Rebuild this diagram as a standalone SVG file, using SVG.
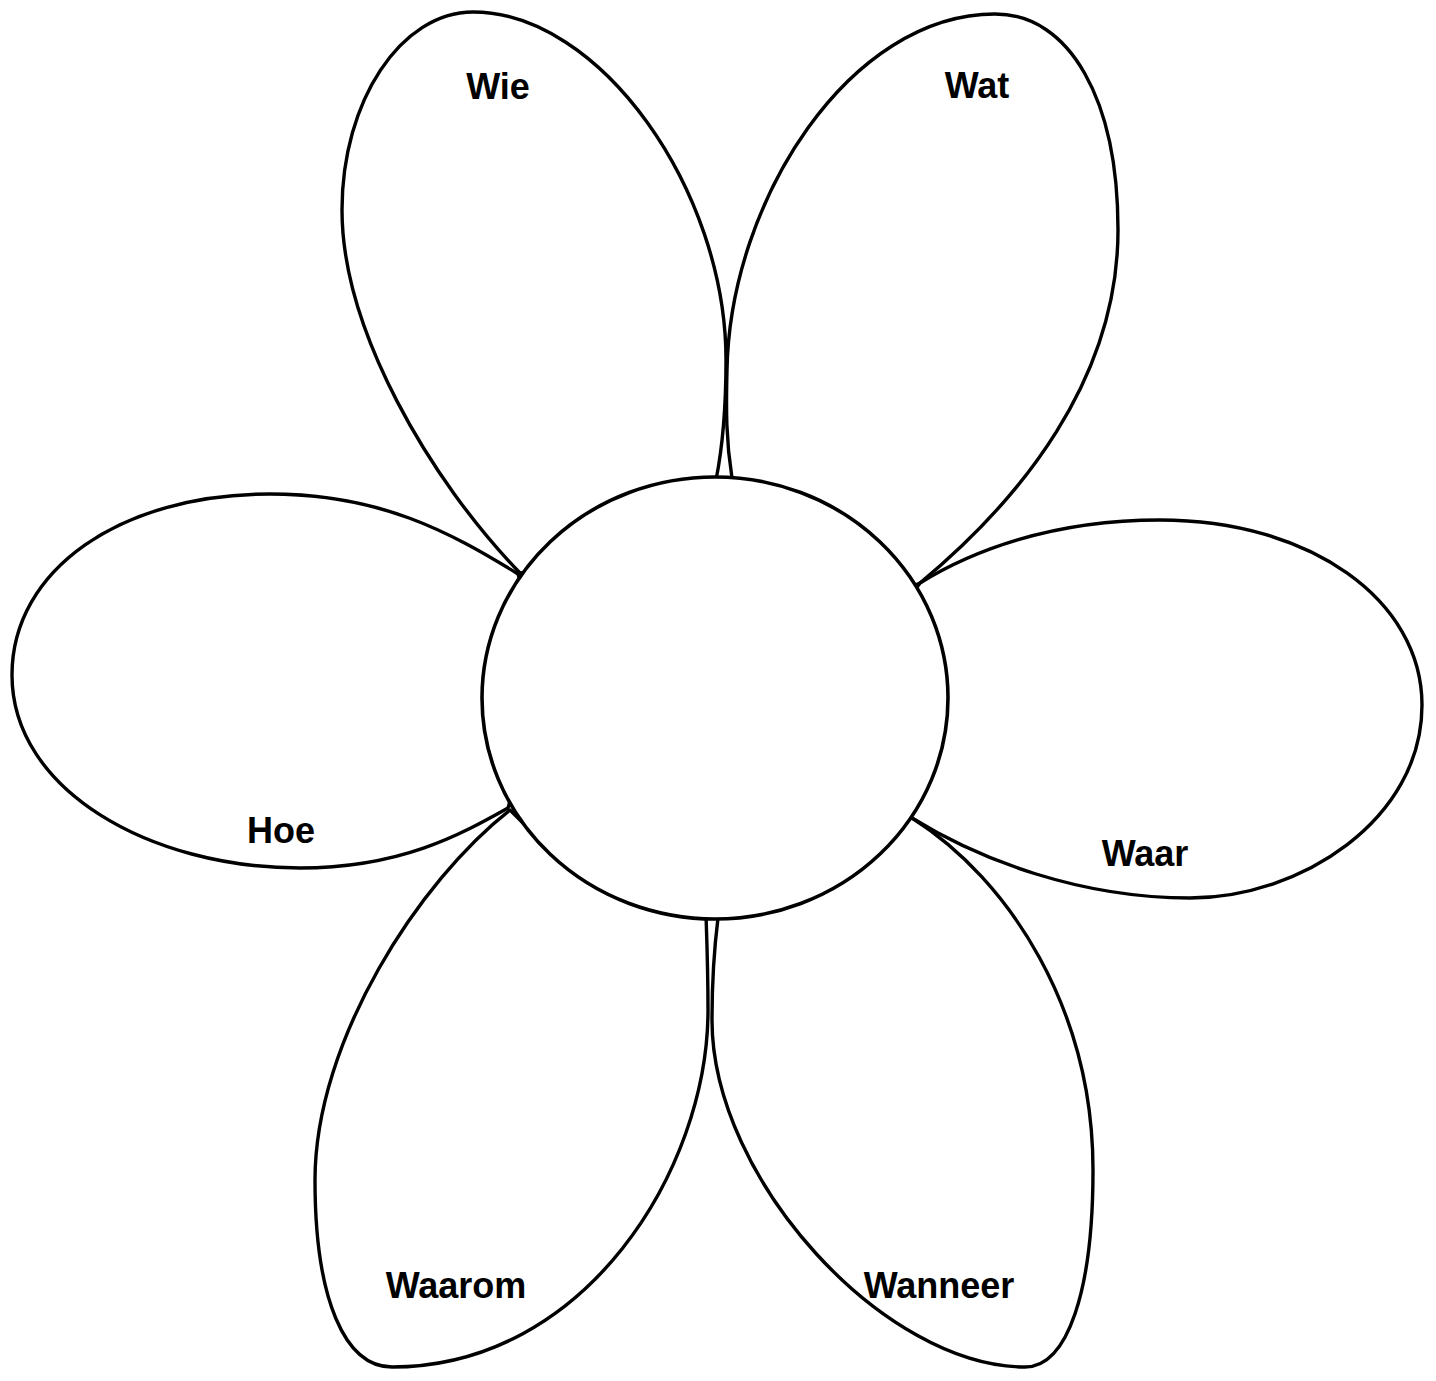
<svg xmlns="http://www.w3.org/2000/svg" width="1436" height="1381" viewBox="0 0 1436 1381">
<style>
.petal{fill:none;stroke:#000;stroke-width:3.4;stroke-linejoin:round}
.center{fill:#fff;stroke:#000;stroke-width:3.6}
.lbl{font-family:"Liberation Sans",Arial,sans-serif;font-weight:bold;font-size:36px;fill:#000;text-anchor:middle}
</style>
<rect width="1436" height="1381" fill="#fff"/>
<g id="petal-wie">
<path class="petal" d="M 690,560 L 520,573 C 430,480 342,330 342,210 C 342,101 401,12 473,12 C 600,12 726,190 726,360 C 726,410 722,450 716,480 Z"/>
<text class="lbl" x="498" y="99">Wie</text>
</g>
<g id="petal-wat">
<path class="petal" d="M 740,560 L 732,478 C 726,440 726,410 727,370 C 730,200 850,14 995,14 C 1070,14 1118,100 1118,230 C 1118,380 1020,500 920,583 L 880,600 Z"/>
<text class="lbl" x="977" y="98">Wat</text>
</g>
<g id="petal-waar">
<path class="petal" d="M 880,640 L 920,583 C 970,552 1050,520 1160,520 C 1310,520 1422,600 1422,705 C 1422,820 1300,898 1190,898 C 1080,898 980,860 912,818 L 880,760 Z"/>
<text class="lbl" x="1145" y="866">Waar</text>
</g>
<g id="petal-hoe">
<path class="petal" d="M 540,650 L 518,574 C 450,532 380,494 270,494 C 120,494 12,570 12,675 C 12,790 150,868 300,868 C 400,868 460,835 508,808 L 540,700 Z"/>
<text class="lbl" x="281" y="843">Hoe</text>
</g>
<g id="petal-waarom">
<path class="petal" d="M 560,860 L 510,810 C 420,880 315,1040 315,1180 C 315,1300 345,1367 392,1367 C 585,1367 708,1170 708,1010 C 708,970 707,945 706,915 L 660,880 Z"/>
<text class="lbl" x="456" y="1298">Waarom</text>
</g>
<g id="petal-wanneer">
<path class="petal" d="M 760,880 L 718,918 C 714,950 712,980 712,1020 C 712,1180 885,1367 1025,1367 C 1068,1367 1093,1290 1093,1170 C 1093,1010 1010,880 912,818 L 860,840 Z"/>
<text class="lbl" x="939" y="1298">Wanneer</text>
</g>
<g id="center">
<ellipse class="center" cx="715" cy="698" rx="233" ry="221"/>
</g>
</svg>
